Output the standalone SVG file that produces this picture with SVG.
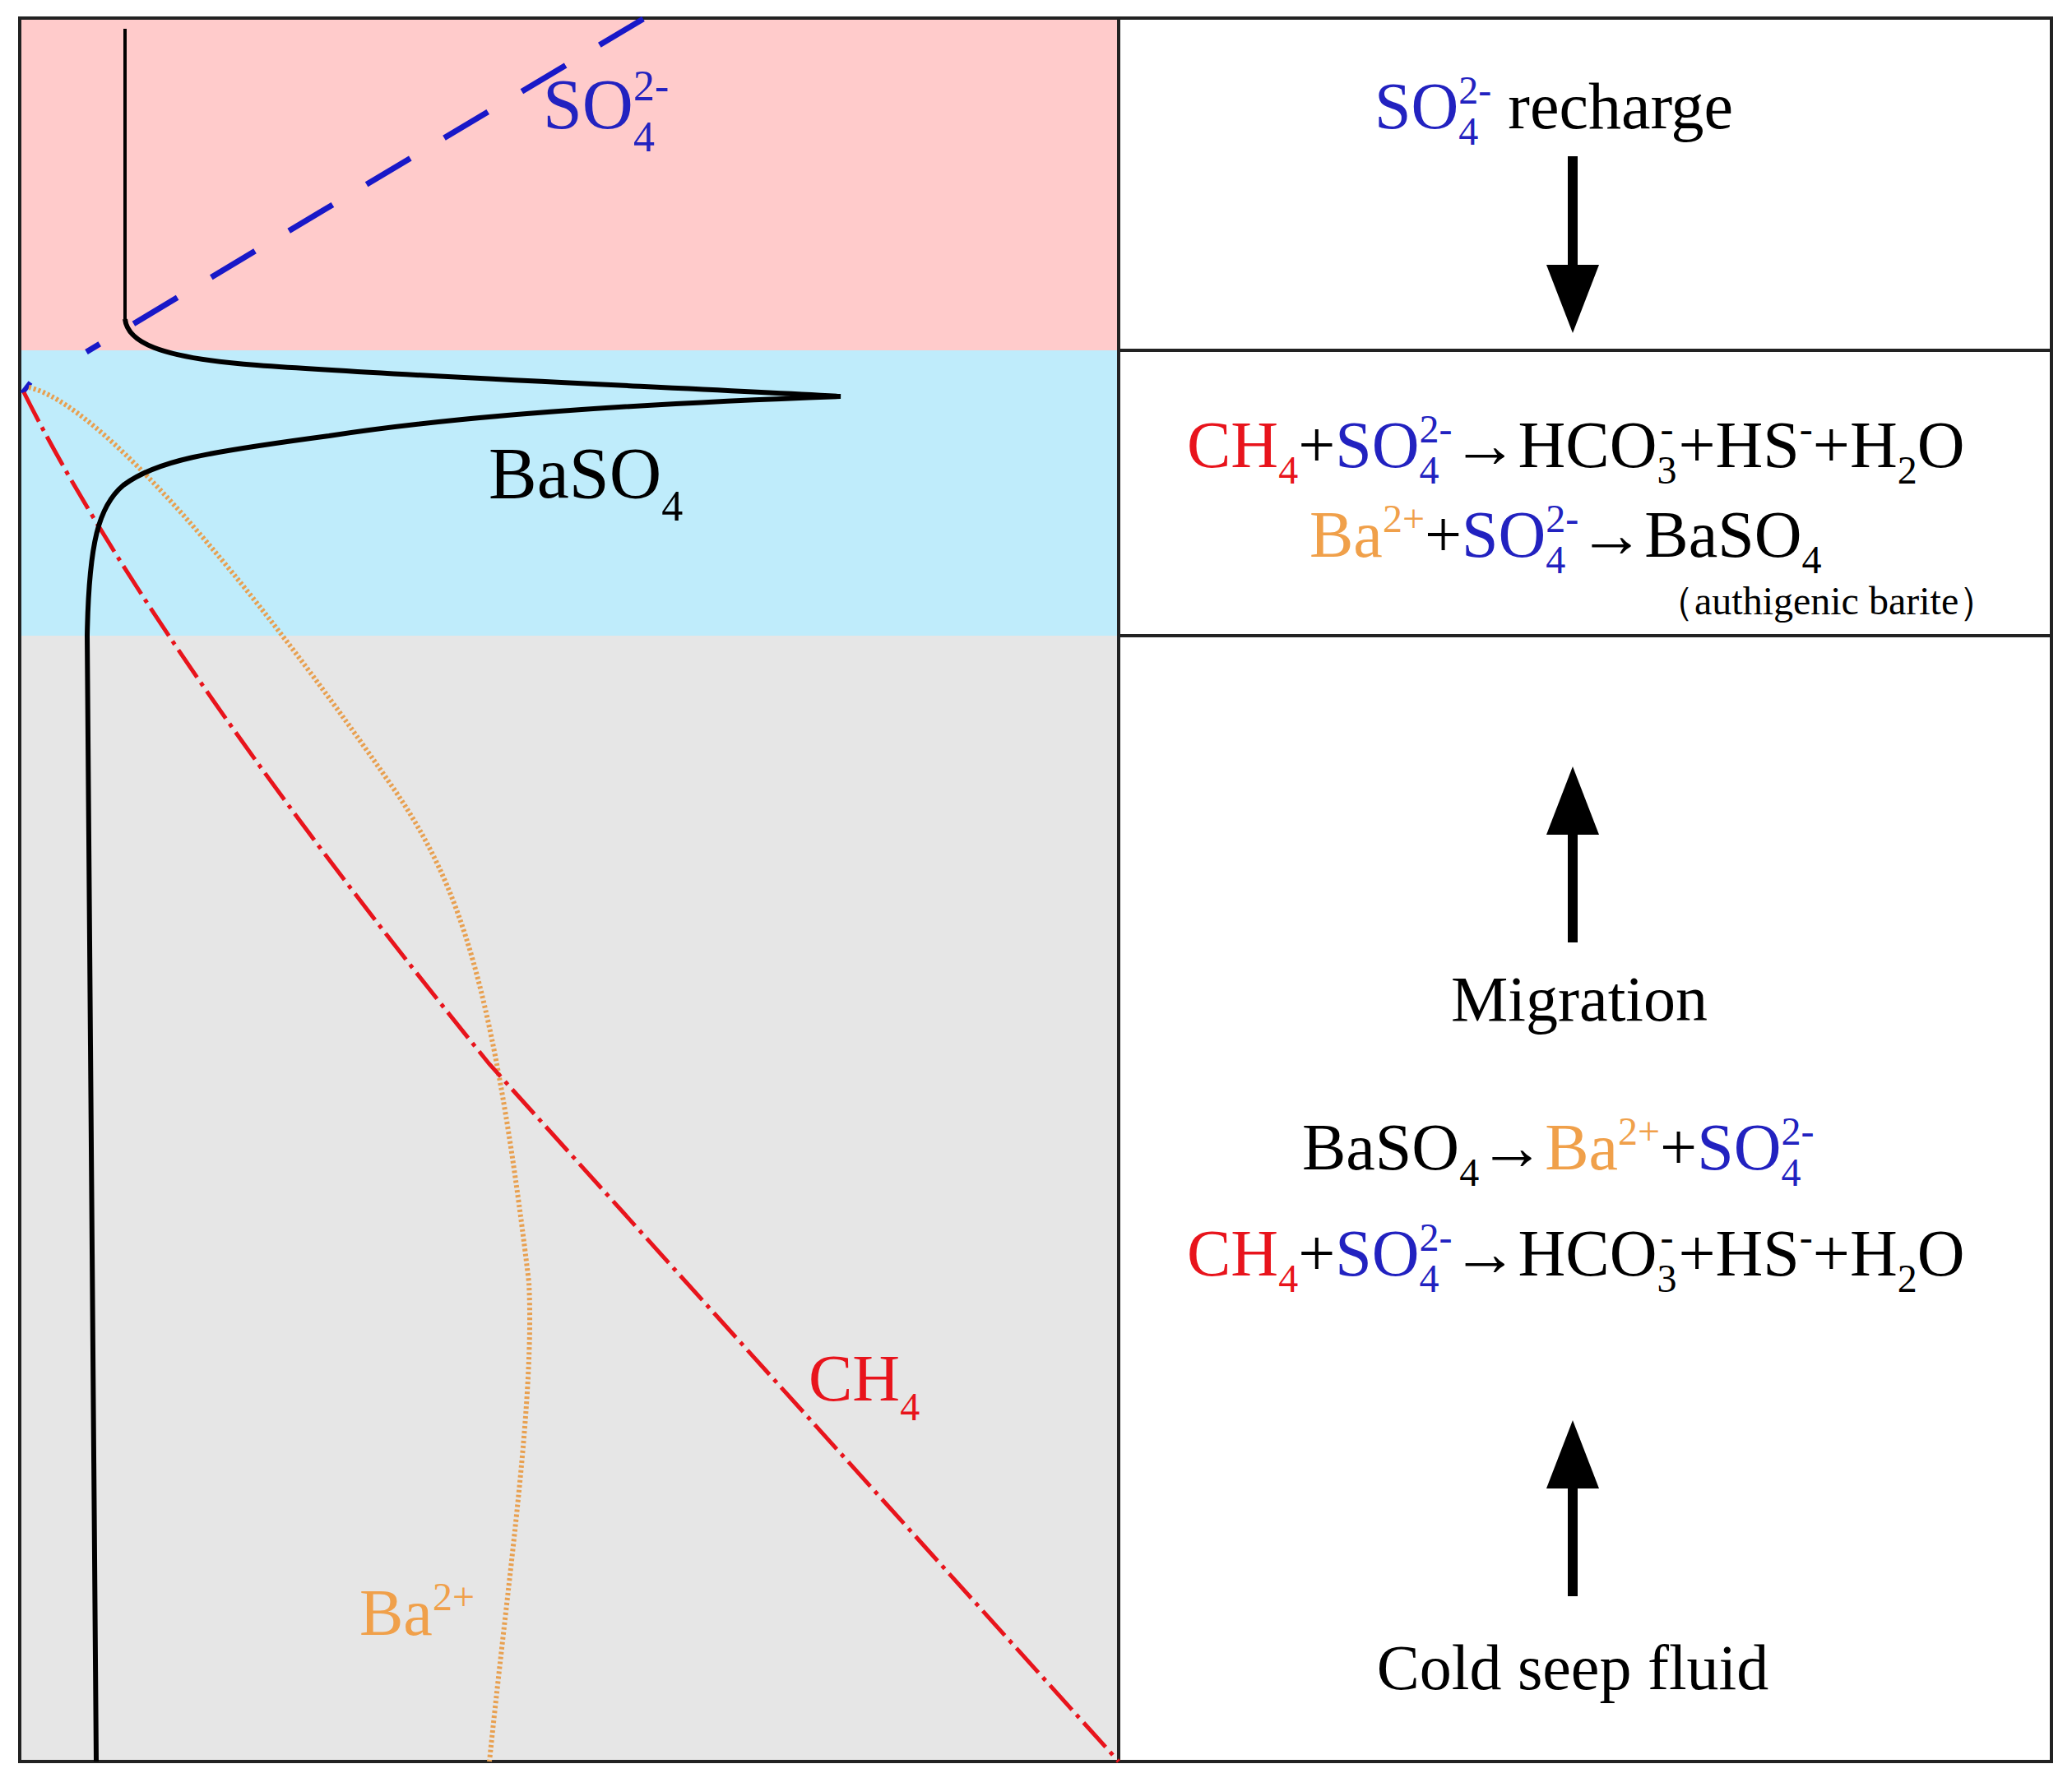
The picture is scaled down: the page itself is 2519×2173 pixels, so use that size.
<svg xmlns="http://www.w3.org/2000/svg" width="2519" height="2173" viewBox="0 0 2519 2173">
<style>
text{font-family:"Liberation Serif","Times New Roman",serif;}
.r{fill:#e8141c}.b{fill:#2222c0}.o{fill:#f0a04a}.k{fill:#000}
.eq{font-size:80px}
.sh{stroke:#000;stroke-width:12;fill:none}
.hd{fill:#000}
</style>
<rect width="2519" height="2173" fill="#fff"/>
<g id="bands">
<rect x="24" y="22" width="1336" height="404" fill="#ffcbcb"/>
<rect x="24" y="426" width="1336" height="347" fill="#bfecfb"/>
<rect x="24" y="773" width="1336" height="1369" fill="#e6e6e6"/>
</g>
<g id="frame" fill="none" stroke="#222" stroke-width="4">
<rect x="24" y="22" width="2470" height="2120"/>
<line x1="1360" y1="22" x2="1360" y2="2142"/>
<line x1="1360" y1="426" x2="2494" y2="426"/>
<line x1="1360" y1="773" x2="2494" y2="773"/>
</g>
<g id="curves" fill="none">
<path d="M782,23 L105,428" stroke="#1818c8" stroke-width="7" stroke-dasharray="62,48"/>
<line x1="27" y1="478" x2="37" y2="465" stroke="#1818c8" stroke-width="6"/>
<path d="M35,471 C120,490 300,700 482,964 C560,1080 600,1200 643,1559 C650,1700 620,1900 595,2142" stroke="#e8a050" stroke-width="6" stroke-dasharray="3,3"/>
<path d="M29,477 C120,660 300,930 595,1294 L1360,2142" stroke="#e8141c" stroke-width="5" stroke-dasharray="40,8,5,8"/>
<path d="M152,35 L152,388" stroke="#000" stroke-width="4"/>
<path d="M152,388 C155,415 190,435 312,444 C500,458 800,470 1022,482 C800,490 560,505 400,530 C250,550 190,560 150,590 C120,615 108,660 106,773 L117,2142" stroke="#000" stroke-width="6"/>
</g>
<g id="curve-labels">
<text x="660" y="156" font-size="86" class="b">SO<tspan font-size="52" dy="28">4</tspan><tspan font-size="52" dx="-26" dy="-62">2-</tspan></text>
<text x="594" y="605" font-size="88" class="k">BaSO<tspan font-size="52" dy="28">4</tspan></text>
<text x="983" y="1703" font-size="80" class="r">CH<tspan font-size="48" dy="24">4</tspan></text>
<text x="437" y="1988" font-size="80" class="o">Ba<tspan font-size="48" dy="-30">2+</tspan></text>
</g>
<g id="arrows">
<line class="sh" x1="1912" y1="190" x2="1912" y2="340"/>
<polygon class="hd" points="1880,322 1944,322 1912,405"/>
<line class="sh" x1="1912" y1="1146" x2="1912" y2="1000"/>
<polygon class="hd" points="1880,1015 1944,1015 1912,932"/>
<line class="sh" x1="1912" y1="1941" x2="1912" y2="1795"/>
<polygon class="hd" points="1880,1810 1944,1810 1912,1727"/>
</g>
<g id="box1">
<text x="1671" y="156" class="eq"><tspan class="b">SO<tspan font-size="48" dy="20">4</tspan><tspan font-size="48" dx="-24" dy="-50">2-</tspan></tspan><tspan class="k" dy="30"> recharge</tspan></text>
</g>
<g id="box2">
<text x="1443" y="568" class="eq"><tspan class="r">CH<tspan font-size="48" dy="20">4</tspan></tspan><tspan class="k" dy="-20">+</tspan><tspan class="b">SO<tspan font-size="48" dy="20">4</tspan><tspan font-size="48" dx="-24" dy="-50">2-</tspan></tspan><tspan class="k" dy="30">→HCO<tspan font-size="48" dy="20">3</tspan><tspan font-size="48" dx="-20" dy="-50">-</tspan><tspan dx="6" dy="30">+HS</tspan><tspan font-size="48" dy="-30">-</tspan><tspan dy="30">+H</tspan><tspan font-size="48" dy="20">2</tspan><tspan dy="-20">O</tspan></tspan></text>
<text x="1592" y="677" class="eq"><tspan class="o">Ba<tspan font-size="48" dy="-30">2+</tspan></tspan><tspan class="k" dy="30">+</tspan><tspan class="b">SO<tspan font-size="48" dy="20">4</tspan><tspan font-size="48" dx="-24" dy="-50">2-</tspan></tspan><tspan class="k" dy="30">→BaSO<tspan font-size="48" dy="20">4</tspan></tspan></text>
<text x="2012" y="747" font-size="48" class="k">（authigenic barite）</text>
</g>
<g id="box3">
<text x="1920" y="1241" font-size="78" text-anchor="middle" class="k">Migration</text>
<text x="1583" y="1422" class="eq"><tspan class="k">BaSO<tspan font-size="48" dy="20">4</tspan><tspan dy="-20">→</tspan></tspan><tspan class="o">Ba<tspan font-size="48" dy="-30">2+</tspan></tspan><tspan class="k" dy="30">+</tspan><tspan class="b">SO<tspan font-size="48" dy="20">4</tspan><tspan font-size="48" dx="-24" dy="-50">2-</tspan></tspan></text>
<text x="1443" y="1551" class="eq"><tspan class="r">CH<tspan font-size="48" dy="20">4</tspan></tspan><tspan class="k" dy="-20">+</tspan><tspan class="b">SO<tspan font-size="48" dy="20">4</tspan><tspan font-size="48" dx="-24" dy="-50">2-</tspan></tspan><tspan class="k" dy="30">→HCO<tspan font-size="48" dy="20">3</tspan><tspan font-size="48" dx="-20" dy="-50">-</tspan><tspan dx="6" dy="30">+HS</tspan><tspan font-size="48" dy="-30">-</tspan><tspan dy="30">+H</tspan><tspan font-size="48" dy="20">2</tspan><tspan dy="-20">O</tspan></tspan></text>
<text x="1912" y="2054" font-size="78" text-anchor="middle" class="k">Cold seep fluid</text>
</g>
</svg>
